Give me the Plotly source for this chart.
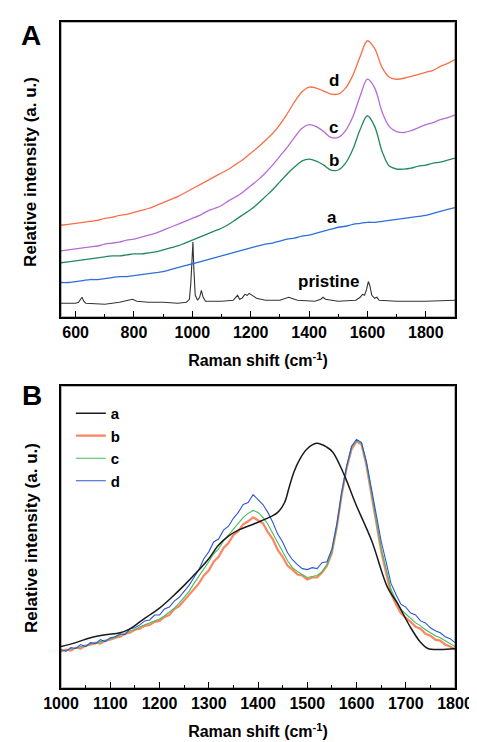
import plotly.graph_objects as go
from plotly.subplots import make_subplots

# --- Panel A: Raman spectra, offset (arbitrary units) ---
shift_A = list(range(550, 1901, 25))

curve_a_A = [35, 35, 36, 37, 38, 38, 39, 40, 41, 41, 42, 43, 44, 45, 46, 48, 50, 52, 54, 56,
             58, 60, 62, 64, 66, 68, 70, 72, 74, 75, 77, 79, 80, 82, 83, 85, 87, 89, 91, 92,
             94, 95, 96, 96, 97, 98, 99, 100, 101, 102, 103, 105, 107, 109, 111]
curve_b_A = [55, 56, 57, 58, 59, 60, 61, 62, 62, 63, 64, 64, 65, 66, 68, 70, 72, 75, 78, 81,
             84, 87, 90, 94, 99, 104, 109, 115, 122, 129, 137, 145, 152, 158, 160, 158, 154, 149, 149, 156,
             170, 190, 204, 193, 168, 153, 150, 150, 151, 153, 154, 156, 157, 159, 161]
curve_c_A = [67, 68, 69, 70, 71, 72, 74, 75, 76, 78, 79, 81, 83, 85, 88, 91, 94, 97, 100, 103,
             107, 110, 113, 118, 122, 127, 133, 139, 146, 154, 163, 172, 182, 191, 195, 193, 188, 182, 182, 189,
             203, 224, 241, 232, 208, 193, 188, 187, 189, 192, 195, 197, 200, 202, 205]
curve_d_A = [93, 94, 95, 96, 97, 98, 100, 101, 103, 104, 106, 108, 110, 113, 116, 119, 122, 126, 130, 134,
             138, 142, 146, 150, 155, 160, 166, 172, 179, 186, 195, 206, 218, 228, 233, 232, 229, 226, 226, 232,
             245, 264, 280, 272, 253, 243, 241, 242, 244, 246, 248, 250, 254, 257, 261]

pristine_x = [550, 600, 610, 616, 622, 628, 635, 700, 750, 780, 795, 810, 850, 900, 950, 980, 990, 995,
              1000, 1002, 1005, 1010, 1018, 1025, 1031, 1037, 1045, 1100, 1140, 1150, 1155, 1162, 1170,
              1180, 1188, 1195, 1205, 1220, 1250, 1300, 1330, 1360, 1420, 1440, 1448, 1456, 1500, 1560,
              1575, 1583, 1590, 1597, 1603, 1608, 1615, 1625, 1632, 1640, 1700, 1800, 1900]
pristine_y = [14, 14, 15, 17, 20, 16, 14, 13, 15, 17, 18, 16, 15, 15, 14, 15, 18, 35,
              74, 76, 50, 22, 17, 20, 27, 20, 16, 16, 17, 20, 22, 18, 19,
              23, 22, 24, 22, 19, 17, 17, 20, 17, 16, 18, 20, 18, 16, 17,
              20, 23, 22, 28, 36, 32, 22, 19, 20, 17, 16, 16, 17]

# --- Panel B: normalised spectra ---
shift_B = list(range(1000, 1801, 10))

curve_b_B = [37, 39, 38, 41, 40, 43, 44, 46, 45, 48,
             49, 51, 52, 55, 56, 59, 60, 63, 64, 67,
             68, 72, 74, 80, 83, 89, 94, 101, 106, 114,
             119, 128, 133, 142, 147, 155, 159, 166, 169, 173,
             170, 167, 158, 151, 140, 133, 124, 120, 115, 114,
             110, 112, 112, 117, 124, 137, 163, 196, 223, 242,
             250, 247, 226, 196, 169, 139, 117, 96, 85, 76,
             71, 67, 62, 60, 55, 53, 49, 48, 44, 42, 39]
curve_c_B = [38, 38, 40, 40, 42, 42, 45, 45, 47, 48,
             50, 51, 54, 55, 58, 59, 62, 64, 66, 68,
             70, 73, 77, 81, 86, 92, 98, 106, 113, 121,
             128, 136, 141, 149, 155, 162, 167, 173, 177, 180,
             178, 173, 166, 157, 147, 138, 129, 122, 118, 115,
             112, 113, 114, 118, 125, 138, 164, 197, 224, 244,
             251, 248, 228, 199, 172, 142, 121, 100, 89, 80,
             75, 70, 66, 63, 59, 56, 53, 51, 48, 45, 42]
curve_d_B = [39, 37, 41, 40, 44, 42, 46, 45, 49, 47,
             51, 52, 55, 54, 60, 61, 64, 68, 69, 74,
             74, 80, 82, 88, 92, 98, 104, 112, 120, 131,
             138, 148, 151, 160, 164, 172, 178, 186, 188, 196,
             191, 186, 178, 168, 156, 148, 137, 130, 125, 121,
             120, 122, 121, 127, 128, 141, 166, 199, 225, 245,
             252, 249, 230, 203, 177, 149, 128, 106, 95, 85,
             82, 76, 74, 68, 66, 61, 58, 56, 52, 50, 46]

curve_a_B_x = [1000, 1030, 1060, 1090, 1120, 1140, 1160, 1180, 1200, 1225, 1250, 1275, 1300,
               1320, 1340, 1360, 1395, 1427, 1440, 1454, 1463, 1473, 1485, 1499, 1519, 1540, 1552,
               1575, 1598, 1631, 1663, 1683, 1709, 1729, 1745, 1770, 1800]
curve_a_B_y = [42, 46, 51, 54, 56, 60, 67, 74, 81, 92, 104, 117, 131,
               145, 154, 160, 167, 174, 178, 188, 203, 219, 232, 242, 248, 244, 239,
               216, 187, 149, 102, 86, 62, 47, 40, 39, 40]

ticks_A = [600, 800, 1000, 1200, 1400, 1600, 1800]
ticks_B = [1000, 1100, 1200, 1300, 1400, 1500, 1600, 1700, 1800]

labels_A = ["d", "c", "b", "a", "pristine"]
label_x_A = [1484, 1484, 1484, 1480, 1468]
label_y_A = [240, 192, 159, 101, 36]

FONT = "Liberation Sans, Arial, sans-serif"
INK = "black"


def bold(s):
    return "<b>" + str(s) + "</b>"


fig = make_subplots(rows=2, cols=1)

# panel A
fig.add_trace(go.Scatter(x=pristine_x, y=pristine_y, mode="lines",
                         line=dict(color="#333333", width=1.1), showlegend=False), row=1, col=1)
fig.add_trace(go.Scatter(x=shift_A, y=curve_a_A, mode="lines", line_shape="spline",
                         line=dict(color="#2f6fdc", width=1.3), showlegend=False), row=1, col=1)
fig.add_trace(go.Scatter(x=shift_A, y=curve_b_A, mode="lines", line_shape="spline",
                         line=dict(color="#23895a", width=1.3), showlegend=False), row=1, col=1)
fig.add_trace(go.Scatter(x=shift_A, y=curve_c_A, mode="lines", line_shape="spline",
                         line=dict(color="#b86ad8", width=1.3), showlegend=False), row=1, col=1)
fig.add_trace(go.Scatter(x=shift_A, y=curve_d_A, mode="lines", line_shape="spline",
                         line=dict(color="#fb6e48", width=1.3), showlegend=False), row=1, col=1)

# panel B (legend order a, b, c, d)
fig.add_trace(go.Scatter(x=shift_B, y=curve_b_B, mode="lines", name=bold("b"),
                         line=dict(color="#ff8460", width=2.2)), row=2, col=1)
fig.add_trace(go.Scatter(x=shift_B, y=curve_c_B, mode="lines", name=bold("c"),
                         line=dict(color="#3cbf5c", width=1.1)), row=2, col=1)
fig.add_trace(go.Scatter(x=shift_B, y=curve_d_B, mode="lines", name=bold("d"),
                         line=dict(color="#2f55d4", width=1.1)), row=2, col=1)
fig.add_trace(go.Scatter(x=curve_a_B_x, y=curve_a_B_y, mode="lines", name=bold("a"),
                         line_shape="spline", line=dict(color="#1a1a1a", width=1.5)), row=2, col=1)
for rank, tr in zip([2, 3, 4, 1], fig.data[5:]):
    tr.legendrank = rank

W, H = 477, 742
ML, MR, MT, MB = 53, 18, 14, 53
plot_w = W - ML - MR
plot_h = H - MT - MB

axis_font = dict(family=FONT, size=16, color=INK)
fig.update_layout(
    template="simple_white",
    width=W, height=H,
    margin=dict(l=ML, r=MR, t=MT, b=MB),
    paper_bgcolor="white", plot_bgcolor="white",
    font=dict(family=FONT, color=INK),
    legend=dict(x=0.025, y=0.437, xanchor="left", yanchor="top",
                bgcolor="rgba(0,0,0,0)", tracegroupgap=0,
                font=dict(family=FONT, size=15, color=INK)),
    showlegend=True,
)
fig.update_yaxes(domain=[0.557, 1.0], range=[0, 299], row=1, col=1)
fig.update_yaxes(domain=[0, 0.4533], range=[0, 306], row=2, col=1)
fig.update_xaxes(range=[550, 1900], tickmode="array", tickvals=ticks_A,
                 ticktext=[bold(t) for t in ticks_A],
                 minor=dict(ticks="inside", ticklen=3, tickcolor=INK, dtick=100), row=1, col=1)
fig.update_xaxes(range=[1000, 1800], tickmode="array", tickvals=ticks_B,
                 ticktext=[bold(t) for t in ticks_B],
                 minor=dict(ticks="inside", ticklen=3, tickcolor=INK, dtick=50), row=2, col=1)

fig.update_xaxes(showline=True, mirror=True, linecolor=INK, linewidth=2,
                 ticks="inside", ticklen=6, tickcolor=INK,
                 showgrid=False, zeroline=False, tickfont=axis_font,
                 title=dict(text=bold("Raman shift (cm<sup>-1</sup>)"), font=axis_font))
fig.update_yaxes(showline=True, mirror=True, linecolor=INK, linewidth=2,
                 ticks="", showticklabels=False, showgrid=False, zeroline=False)

# frame around each panel
for xr, yr in [("x domain", "y domain"), ("x2 domain", "y2 domain")]:
    fig.add_shape(type="rect", xref=xr, yref=yr, x0=0, x1=1, y0=0, y1=1,
                  line=dict(color="#111111", width=2), fillcolor="rgba(0,0,0,0)", layer="above")

for txt, xv, yv in zip(labels_A, label_x_A, label_y_A):
    fig.add_annotation(x=xv, y=yv, xref="x", yref="y", text=bold(txt), showarrow=False,
                       font=dict(family=FONT, size=17, color=INK))

for letter, px, py in [("A", 22, 28), ("B", 23, 393)]:
    fig.add_annotation(x=(px - ML) / plot_w, y=(H - MB - py) / plot_h, xref="paper", yref="paper",
                       xanchor="center", yanchor="middle", text=bold(letter), showarrow=False,
                       font=dict(family=FONT, size=28, color="black"))
for py in [166, 537]:
    fig.add_annotation(x=(22 - ML) / plot_w, y=(H - MB - py) / plot_h, xref="paper", yref="paper",
                       xanchor="center", yanchor="middle",
                       text=bold("Relative intensity (a. u.)"), textangle=-90, showarrow=False,
                       font=dict(family=FONT, size=17, color=INK))

fig.write_html("out.html")
